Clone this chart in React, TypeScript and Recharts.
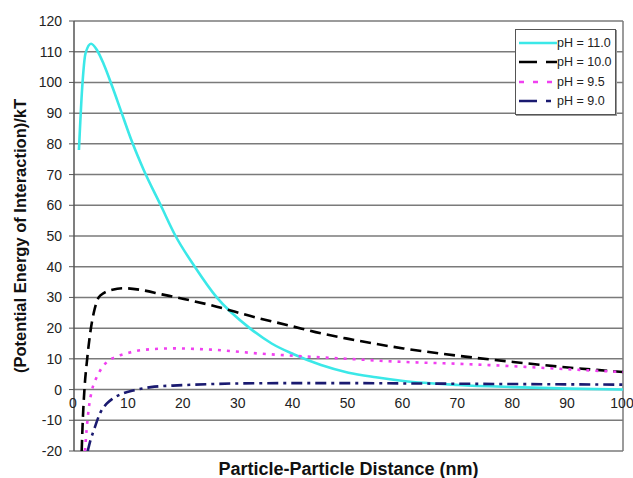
import React from "react";
import { LineChart, Line, XAxis, YAxis, CartesianGrid, ReferenceLine, Legend } from "recharts";

// ---- data (x = distance in nm, y = energy / kT) ----
const ph110 = [
  { x: 0.9, y: 78 }, { x: 1.5, y: 98.5 }, { x: 2.1, y: 109.5 }, { x: 3.1, y: 112.6 },
  { x: 4.2, y: 110.5 }, { x: 5.4, y: 106 }, { x: 7, y: 98.5 }, { x: 8.5, y: 91 },
  { x: 10.5, y: 81 }, { x: 12.7, y: 71.5 }, { x: 15.8, y: 60 }, { x: 18.5, y: 50 },
  { x: 22, y: 40 }, { x: 26, y: 30 }, { x: 32, y: 20 }, { x: 36, y: 15 },
  { x: 40, y: 11.5 }, { x: 45, y: 8 }, { x: 50, y: 5.5 }, { x: 55, y: 4 },
  { x: 60, y: 2.8 }, { x: 70, y: 1.5 }, { x: 80, y: 0.8 }, { x: 90, y: 0.3 }, { x: 100, y: 0 },
];
const ph100 = [
  { x: 1.4, y: -20 }, { x: 1.6, y: -10 }, { x: 1.9, y: 0 }, { x: 2.4, y: 10 },
  { x: 3, y: 19 }, { x: 3.6, y: 25 }, { x: 4.5, y: 30 }, { x: 5.5, y: 31.5 },
  { x: 7, y: 32.5 }, { x: 9, y: 33 }, { x: 12, y: 32.5 }, { x: 16, y: 31 },
  { x: 20, y: 29.5 }, { x: 26, y: 27 }, { x: 32, y: 24 }, { x: 40, y: 20.5 },
  { x: 44, y: 18.7 }, { x: 50, y: 16.5 }, { x: 60, y: 13.4 }, { x: 70, y: 11 },
  { x: 80, y: 9 }, { x: 90, y: 7.2 }, { x: 100, y: 5.7 },
];
const ph95 = [
  { x: 2, y: -20 }, { x: 2.3, y: -13 }, { x: 2.7, y: -6 }, { x: 3.3, y: 0 },
  { x: 4, y: 3.5 }, { x: 4.8, y: 6.3 }, { x: 6, y: 9 }, { x: 7.6, y: 10.6 },
  { x: 10, y: 12 }, { x: 13, y: 13 }, { x: 18, y: 13.4 }, { x: 25, y: 13 },
  { x: 34, y: 11.7 }, { x: 44, y: 10.6 }, { x: 50, y: 10 }, { x: 60, y: 9 },
  { x: 70, y: 8.4 }, { x: 80, y: 7.6 }, { x: 90, y: 6.6 }, { x: 100, y: 5.7 },
];
const ph90 = [
  { x: 2.5, y: -20 }, { x: 3, y: -16.5 }, { x: 3.6, y: -13.3 }, { x: 4.8, y: -7.5 },
  { x: 6, y: -4.5 }, { x: 7, y: -3 }, { x: 8.8, y: -1.3 }, { x: 11, y: -0.2 },
  { x: 14, y: 0.8 }, { x: 18, y: 1.3 }, { x: 22, y: 1.6 }, { x: 30, y: 2 },
  { x: 40, y: 2.1 }, { x: 50, y: 2.1 }, { x: 60, y: 2 }, { x: 70, y: 1.9 },
  { x: 80, y: 1.8 }, { x: 90, y: 1.7 }, { x: 100, y: 1.6 },
];

const xTicks = [0, 10, 20, 30, 40, 50, 60, 70, 80, 90, 100];
const yTicks = [-20, -10, 0, 10, 20, 30, 40, 50, 60, 70, 80, 90, 100, 110, 120];

const series = [
  { name: "pH = 11.0", data: ph110, color: "#3BE8E8", dash: undefined as string | undefined, legendDash: undefined as string | undefined },
  { name: "pH = 10.0", data: ph100, color: "#000000", dash: "11 6", legendDash: "18 9" },
  { name: "pH = 9.5", data: ph95, color: "#F040F0", dash: "3 6", legendDash: "5 9" },
  { name: "pH = 9.0", data: ph90, color: "#1A1A70", dash: "11 5 3 5", legendDash: "18 9 5 9" },
];

// ---- layout ----
const W = 633;
const H = 478;
const M = { top: 21, right: 10, left: 0, bottom: 0 };
const X_AXIS_H = 27;
const Y_AXIS_W = 74;
const Y_MIN = -20;
const Y_MAX = 120;
const PLOT_H = H - M.top - M.bottom - X_AXIS_H;
const ZERO_SHIFT = (PLOT_H * (0 - Y_MIN)) / (Y_MAX - Y_MIN);
const FONT = "'Liberation Sans', Arial, sans-serif";
const GRID = "#7a7a7a";

const XTick = (props: any) => {
  const { x, y, payload } = props;
  const zy = y - ZERO_SHIFT;
  return (
    <text x={x - 1} y={zy + 14} dy="0.35em" textAnchor="middle" fontSize={14} fill="#222" fontFamily={FONT}>
      {payload.value}
    </text>
  );
};

const LegendBox = () => (
  <div
    style={{
      boxSizing: "border-box",
      width: 101,
      border: "1px solid #555",
      background: "#fff",
      padding: "3px 1px",
      boxShadow: "1px 1px 0 #999",
      fontFamily: FONT,
      fontSize: 12.5,
      color: "#222",
      whiteSpace: "nowrap",
    }}
  >
    {series.map((s) => (
      <div key={s.name} style={{ display: "flex", alignItems: "center", height: 19.5 }}>
        <svg width={40} height={6} style={{ flex: "none" }}>
          <line x1={2} y1={3} x2={40} y2={3} stroke={s.color} strokeWidth={2.5} strokeDasharray={s.legendDash} />
        </svg>
        <span>{s.name}</span>
      </div>
    ))}
  </div>
);

export default function App() {
  return (
    <div style={{ position: "absolute", left: 0, top: 0, background: "#fff" }}>
      <LineChart width={W} height={H} margin={M}>
        <CartesianGrid horizontal vertical={false} stroke={GRID} strokeWidth={1.5} />
        <XAxis
          dataKey="x"
          type="number"
          domain={[0, 100]}
          ticks={xTicks}
          height={X_AXIS_H}
          axisLine={false}
          tickLine={false}
          tickSize={0}
          tickMargin={0}
          tick={<XTick />}
          interval={0}
          label={{
            value: "Particle-Particle Distance (nm)",
            position: "center",
            dy: 4,
            style: { fontFamily: FONT, fontSize: 18, fontWeight: "bold", fill: "#111" },
          }}
        />
        <YAxis
          type="number"
          domain={[Y_MIN, Y_MAX]}
          ticks={yTicks}
          interval={0}
          allowDataOverflow
          width={Y_AXIS_W}
          axisLine={{ stroke: "#555", strokeWidth: 1.5 }}
          tickLine={{ stroke: "#555" }}
          tickSize={5}
          tickMargin={7}
          tick={{ fontSize: 14, fill: "#222", fontFamily: FONT }}
          label={{
            value: "(Potential Energy of Interaction)/kT",
            angle: -90,
            position: "center",
            dx: -17,
            style: { fontFamily: FONT, fontSize: 16.5, fontWeight: "bold", fill: "#111", textAnchor: "middle" },
          }}
        />
        <ReferenceLine x={100} stroke={GRID} strokeWidth={1.5} />
        {series.map((s) => (
          <Line
            key={s.name}
            data={s.data}
            dataKey="y"
            name={s.name}
            type="monotone"
            stroke={s.color}
            strokeWidth={2.6}
            strokeDasharray={s.dash}
            dot={false}
            activeDot={false}
            isAnimationActive={false}
          />
        ))}
        <Legend
          layout="vertical"
          align="center"
          verticalAlign="middle"
          wrapperStyle={{ left: 515, top: 29, width: 101, right: "auto", bottom: "auto" }}
          content={() => <LegendBox />}
        />
      </LineChart>
    </div>
  );
}
